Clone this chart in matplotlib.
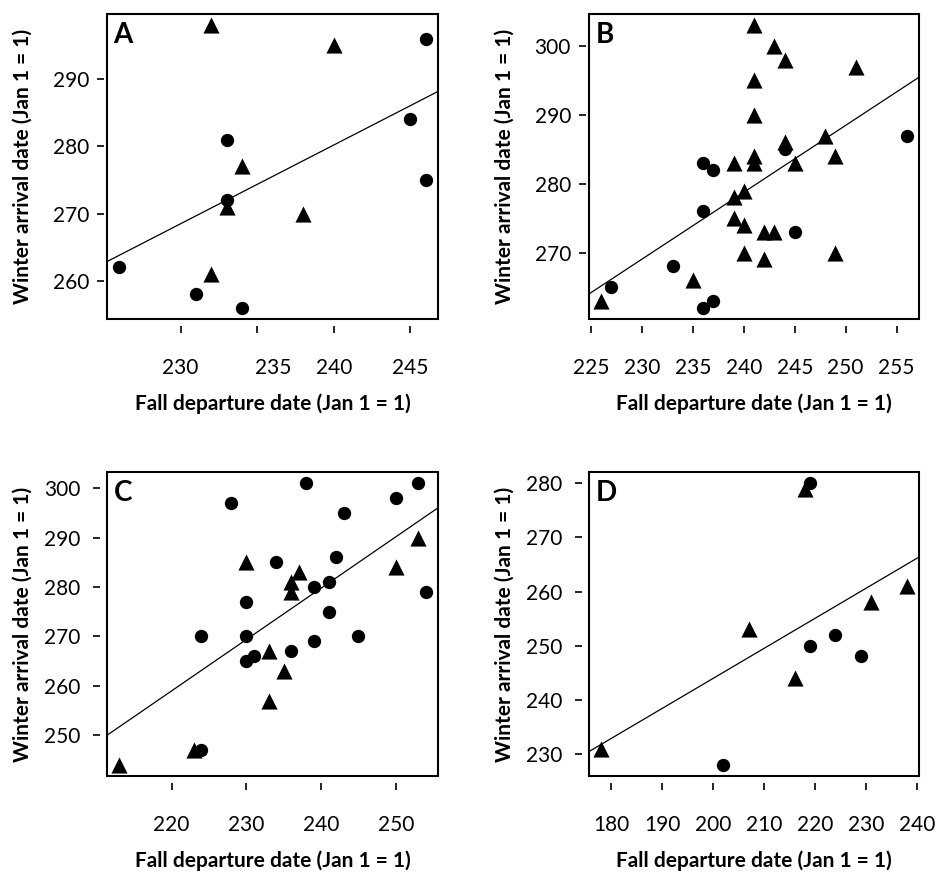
import numpy as np
import matplotlib
matplotlib.use("Agg")
import matplotlib.pyplot as plt
from matplotlib.patches import Rectangle
from matplotlib.transforms import ScaledTranslation

plt.rcParams['font.family'] = ['Lato', 'DejaVu Sans']

# panel A
a_circ_x = [246, 245, 233, 233, 246, 226, 231, 234]
a_circ_y = [296, 284, 281, 272, 275, 262, 258, 256]
a_tri_x = [232, 240, 234, 233, 238, 232]
a_tri_y = [298, 295, 277, 271, 270, 261]

# panel B
b_circ_x = [256, 244, 236, 237, 236, 245, 233, 227, 237, 236]
b_circ_y = [287, 285, 283, 282, 276, 273, 268, 265, 263, 262]
b_tri_x = [241, 243, 244, 251, 241, 241, 248, 244, 241, 241, 249, 245, 239,
           240, 239, 239, 240, 242, 243, 240, 249, 242, 235, 226]
b_tri_y = [303, 300, 298, 297, 295, 290, 287, 286, 284, 283, 284, 283, 283,
           279, 278, 275, 274, 273, 273, 270, 270, 269, 266, 263]

# panel C
c_circ_x = [238, 253, 228, 250, 243, 242, 234, 239, 241, 254, 230, 241, 224,
            230, 245, 239, 236, 231, 230, 224]
c_circ_y = [301, 301, 297, 298, 295, 286, 285, 280, 281, 279, 277, 275, 270,
            270, 270, 269, 267, 266, 265, 247]
c_tri_x = [253, 230, 250, 237, 236, 236, 233, 235, 233, 223, 213]
c_tri_y = [290, 285, 284, 283, 281, 279, 267, 263, 257, 247, 244]

# panel D
d_circ_x = [219, 224, 219, 229, 202]
d_circ_y = [280, 252, 250, 248, 228]
d_tri_x = [218, 238, 231, 207, 216, 178]
d_tri_y = [279, 261, 258, 253, 244, 231]

panels = [
    ("A", a_circ_x, a_circ_y, a_tri_x, a_tri_y, [230, 235, 240, 245], [260, 270, 280, 290]),
    ("B", b_circ_x, b_circ_y, b_tri_x, b_tri_y, [225, 230, 235, 240, 245, 250, 255], [270, 280, 290, 300]),
    ("C", c_circ_x, c_circ_y, c_tri_x, c_tri_y, [220, 230, 240, 250], [250, 260, 270, 280, 290, 300]),
    ("D", d_circ_x, d_circ_y, d_tri_x, d_tri_y, [180, 190, 200, 210, 220, 230, 240], [230, 240, 250, 260, 270, 280]),
]

W, H = 936, 877
boxes = [(107, 14, 438, 319), (589, 14, 919, 319),
         (107, 472, 438, 776), (589, 472, 919, 776)]

fig = plt.figure(figsize=(W / 100, H / 100), dpi=100)

for (lab, cx, cy, tx, ty, xt, yt), (l, t, r, b) in zip(panels, boxes):
    ax = fig.add_axes([l / W, 1 - b / H, (r - l) / W, (b - t) / H])
    ax.scatter(cx, cy, s=92, marker='o', color='black', linewidths=0, zorder=3)
    ax.scatter(tx, ty, s=135, marker='^', color='black', linewidths=0, zorder=3)

    # least squares line through all points
    xs = np.array(cx + tx, dtype=float)
    ys = np.array(cy + ty, dtype=float)
    slope, icpt = np.polyfit(xs, ys, 1)
    ax.margins(0.04)
    ax.autoscale_view()
    ax.set_xlim(ax.get_xlim())
    ax.set_ylim(ax.get_ylim())
    ax.axline((xs.mean(), icpt + slope * xs.mean()), slope=slope,
              color='black', lw=0.9, zorder=2)

    ax.set_xticks(xt)
    ax.set_yticks(yt)
    for s in ax.spines.values():
        s.set_visible(False)
    ax.spines['bottom'].set_position(('outward', 5))
    ax.spines['left'].set_position(('outward', 2 if lab in "AB" else 5))
    ax.add_patch(Rectangle((0, 0), 1, 1, transform=ax.transAxes, fill=False,
                           lw=1.5, ec='black', clip_on=False, zorder=4))
    ax.tick_params(axis='both', direction='out', length=5, width=1.2,
                   labelsize=15, colors='black')
    ax.tick_params(axis='x', pad=18)
    ax.tick_params(axis='y', pad=6 if lab in "AB" else 9)

    if lab == "A":
        # the 235 label sits a little right of its tick in the original
        lbl = ax.get_xticklabels()[1]
        lbl.set_transform(lbl.get_transform() + ScaledTranslation(16 / 100, 0, fig.dpi_scale_trans))

    ax.set_xlabel("Fall departure date (Jan 1 = 1)", fontsize=15, fontweight='bold')
    ax.set_ylabel("Winter arrival date (Jan 1 = 1)", fontsize=15, fontweight='bold')
    ax.xaxis.set_label_coords(0.5, -0.245)
    ax.yaxis.set_label_coords(-0.225, 0.5)
    ax.text(0.02, 0.975, lab, transform=ax.transAxes, ha='left', va='top',
            fontsize=20, fontweight='bold', zorder=5)

fig.savefig("out.png", dpi=100)
